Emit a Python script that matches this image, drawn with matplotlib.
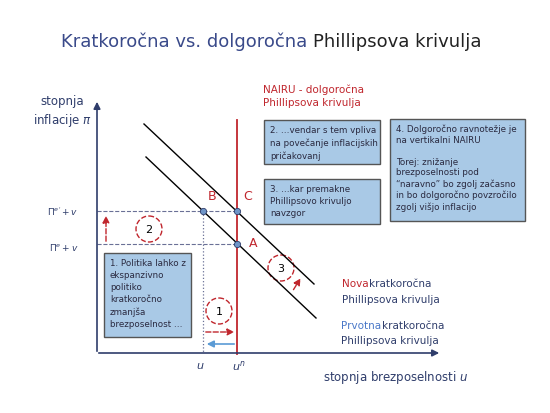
import matplotlib
matplotlib.use('Agg')
import matplotlib.pyplot as plt
from matplotlib.patches import Circle, FancyBboxPatch

# pixel layout of the sketch (x right, y down)
old_curve_x = [146, 316]
old_curve_y = [158, 319]
new_curve_x = [144, 314]
new_curve_y = [125, 285]
nairu_x = 237
u_x = 203
pi_hi = 212
pi_lo = 245
points = {"A": (237, 245), "B": (203, 212), "C": (237, 212)}

NAVY = "#2f3d6b"
RED = "#c0262d"
BOXC = "#a9c9e6"

fig = plt.figure(figsize=(5.5, 4.14), dpi=100)
ax = fig.add_axes([0, 0, 1, 1])
ax.set_xlim(0, 550)
ax.set_ylim(414, 0)
ax.axis('off')

ax.text(313, 42, "Kratkoročna vs. dolgoročna ", ha='right', va='center', fontsize=13, color="#3a4a8a")
ax.text(313, 42, "Phillipsova krivulja", ha='left', va='center', fontsize=13, color="#222222")

# axes
ax.annotate("", xy=(97, 100), xytext=(97, 355), arrowprops=dict(arrowstyle='-|>', color=NAVY, lw=1.2))
ax.annotate("", xy=(442, 354), xytext=(96, 354), arrowprops=dict(arrowstyle='-|>', color=NAVY, lw=1.2))
ax.text(62, 112, "stopnja\ninflacije $\\pi$", ha='center', va='center', fontsize=8.5, color=NAVY, linespacing=1.3)
ax.text(323, 378, "stopnja brezposelnosti $u$", ha='left', va='center', fontsize=8.5, color=NAVY)
ax.text(200, 366, "$u$", ha='center', va='center', fontsize=8, color=NAVY)
ax.text(239, 366, "$u^n$", ha='center', va='center', fontsize=8, color=NAVY)
ax.text(78, 212, "$\\Pi^{e'}+v$", ha='right', va='center', fontsize=6.5, color=NAVY)
ax.text(78, 248, "$\\Pi^{e}+v$", ha='right', va='center', fontsize=6.5, color=NAVY)

# guides
ax.plot([97, 237], [pi_hi, pi_hi], ls='--', color="#6a7096", lw=0.8)
ax.plot([97, 237], [pi_lo, pi_lo], ls='--', color="#6a7096", lw=0.8)
ax.plot([u_x, u_x], [pi_hi, 354], ls=':', color="#6a7096", lw=0.9)

# curves
ax.plot(old_curve_x, old_curve_y, color='black', lw=1)
ax.plot(new_curve_x, new_curve_y, color='black', lw=1)
ax.plot([nairu_x, nairu_x], [121, 355], color=RED, lw=1.3)
for k, (x, y) in points.items():
    ax.plot(x, y, 'o', ms=4.5, mfc="#6f95c8", mec=NAVY, mew=0.6)
ax.text(212, 197, "B", color=RED, fontsize=9, ha='center', va='center')
ax.text(248, 197, "C", color=RED, fontsize=9, ha='center', va='center')
ax.text(253, 244, "A", color=RED, fontsize=9, ha='center', va='center')

ax.text(263, 96, "NAIRU - dolgoročna\nPhillipsova krivulja", color=RED, fontsize=7.5, va='center', linespacing=1.4)

# circles
for (cx, cy, s) in [(149, 230, "2"), (219, 312, "1"), (281, 269, "3")]:
    ax.add_patch(Circle((cx, cy), 13, fill=False, ec=RED, ls='--', lw=1))
    ax.text(cx, cy, s, ha='center', va='center', fontsize=8)

ax.annotate("", xy=(106, 214), xytext=(106, 245), arrowprops=dict(arrowstyle='-|>', color=RED, ls='--', lw=1))
ax.annotate("", xy=(302, 277), xytext=(292, 293), arrowprops=dict(arrowstyle='-|>', color=RED, ls='--', lw=1))
ax.annotate("", xy=(237, 333), xytext=(203, 333), arrowprops=dict(arrowstyle='-|>', color=RED, ls='--', lw=1))
ax.annotate("", xy=(204, 345), xytext=(237, 345), arrowprops=dict(arrowstyle='-|>', color="#5b9bd5", lw=1.2))

# boxes
boxes = [
    (264, 121, 116, 44, "2. …vendar s tem vpliva\nna povečanje inflacijskih\npričakovanj", 1.45),
    (264, 180, 116, 45, "3. …kar premakne\nPhillipsovo krivuljo\nnavzgor", 1.45),
    (390, 120, 135, 102, "4. Dolgoročno ravnotežje je\nna vertikalni NAIRU\n\nTorej: znižanje\nbrezposelnosti pod\n“naravno” bo zgolj začasno\nin bo dolgoročno povzročilo\nzgolj višjo inflacijo", 1.25),
    (104, 254, 87, 84, "1. Politika lahko z\nekspanzivno\npolitiko\nkratkoročno\nzmanjša\nbrezposelnost …", 1.45),
]
for (x, y, w, h, t, ls) in boxes:
    ax.add_patch(FancyBboxPatch((x, y), w, h, boxstyle='square,pad=0', fc=BOXC, ec="#555555", lw=1))
    ax.text(x + 6, y + 5, t, ha='left', va='top', fontsize=6.3, color="#2a2a40", linespacing=ls)

ax.text(342, 284, "Nova", color=RED, fontsize=7.5, va='center')
ax.text(369, 284, "kratkoročna", color=NAVY, fontsize=7.5, va='center')
ax.text(342, 300, "Phillipsova krivulja", color=NAVY, fontsize=7.5, va='center')
ax.text(341, 326, "Prvotna", color="#4a78c8", fontsize=7.5, va='center')
ax.text(382, 326, "kratkoročna", color=NAVY, fontsize=7.5, va='center')
ax.text(341, 341, "Phillipsova krivulja", color=NAVY, fontsize=7.5, va='center')

fig.savefig("out.png", dpi=100)
